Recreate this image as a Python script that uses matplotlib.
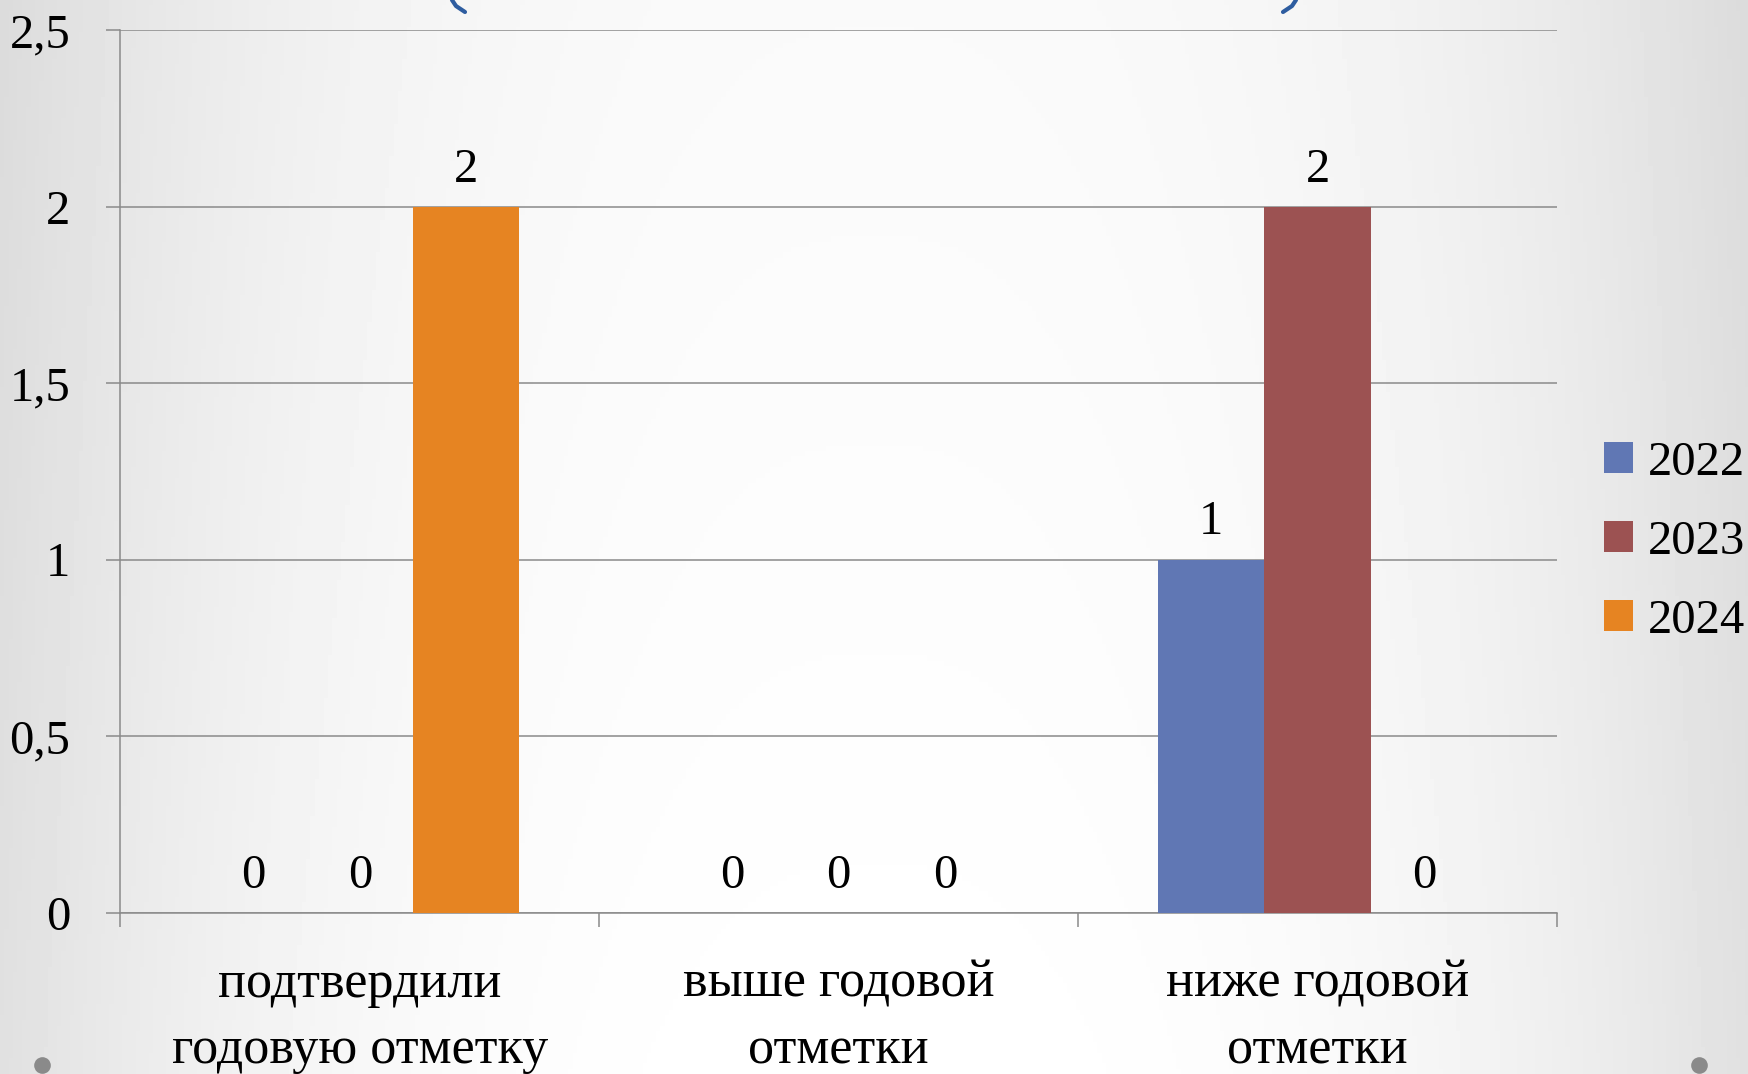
import matplotlib
matplotlib.use('Agg')
import matplotlib.pyplot as plt
import numpy as np
from matplotlib.ticker import FuncFormatter, FixedLocator
from matplotlib.lines import Line2D

categories = ['подтвердили\nгодовую отметку', 'выше годовой\nотметки', 'ниже годовой\nотметки']
years = ['2022', '2023', '2024']
v2022 = [0, 0, 1]
v2023 = [0, 0, 2]
v2024 = [2, 0, 0]
series = [v2022, v2023, v2024]
colors = ['#6077B4', '#9C5252', '#E68422']

plt.rcParams['font.family'] = ['Liberation Serif', 'DejaVu Serif']
FS = 35
W, H = 1749, 1074
fig = plt.figure(figsize=(W / 100, H / 100), dpi=100)

# slide background: grey at the edges, white in the middle
bg = fig.add_axes([0, 0, 1, 1], zorder=-10)
xs = np.linspace(0, 1, 400)
ys = np.linspace(0, 1, 200)
X, Y = np.meshgrid(xs, ys)
shade = 1 - 0.12 * np.clip(np.abs(X - 0.5) / 0.5, 0, 1) ** 2.6 - 0.02 * Y
bg.imshow(shade, cmap='gray', vmin=0, vmax=1, extent=[0, 1, 0, 1], aspect='auto', origin='lower')
bg.axis('off')

ax = fig.add_axes([120.5 / W, 1 - 912.5 / H, (1557 - 120.5) / W, (912.5 - 30) / H])
ax.patch.set_alpha(0)

x = np.arange(len(categories))
w = 0.222
for i, (vals, yr, c) in enumerate(zip(series, years, colors)):
    bars = ax.bar(x + (i - 1) * w, vals, width=w, color=c, label=yr, zorder=3)
    for b, v in zip(bars, vals):
        ax.annotate(f'{v}', (b.get_x() + b.get_width() / 2, v), xytext=(0, 18),
                    textcoords='offset points', ha='center', va='baseline', fontsize=FS)

ax.set_xlim(-0.5, 2.5)
ax.set_ylim(0, 2.5)
ax.set_yticks([0, 0.5, 1, 1.5, 2, 2.5])
ax.yaxis.set_major_formatter(FuncFormatter(lambda v, p: f'{v:g}'.replace('.', ',')))
ax.grid(axis='y', color='#8a8a8a', linewidth=1.1, zorder=0)
ax.tick_params(axis='y', length=10, width=1.1, color='#8a8a8a', pad=26, labelsize=FS)

ax.xaxis.set_major_locator(FixedLocator([-0.5, 0.5, 1.5, 2.5]))
ax.xaxis.set_major_formatter(FuncFormatter(lambda v, p: ''))
ax.xaxis.set_minor_locator(FixedLocator(x))
ax.set_xticklabels(categories, minor=True, fontsize=37.5, linespacing=1.5)
ax.tick_params(axis='x', which='major', length=10, width=1.1, color='#8a8a8a')
ax.tick_params(axis='x', which='minor', length=0, pad=34)

for s in ['top', 'right']:
    ax.spines[s].set_visible(False)
for s in ['left', 'bottom']:
    ax.spines[s].set_color('#8a8a8a')
    ax.spines[s].set_linewidth(1.1)

fig.legend(loc='center left', bbox_to_anchor=(1604 / W, 1 - 542 / H), frameon=False,
           fontsize=FS, handlelength=0.6, handleheight=0.6, handletextpad=0.3,
           labelspacing=0.72, borderpad=0, borderaxespad=0)

# decorative slide elements
fig.add_artist(Line2D([452 / W, 456 / W, 465 / W], [1, 1 - 6 / H, 1 - 12 / H],
                      color='#2E5DA0', linewidth=3, solid_capstyle='round'))
fig.add_artist(Line2D([1296 / W, 1292 / W, 1283 / W], [1, 1 - 6 / H, 1 - 12 / H],
                      color='#2E5DA0', linewidth=3, solid_capstyle='round'))
fig.add_artist(Line2D([42 / W, 1699 / W], [1 - 1065 / H] * 2, linestyle='none',
                      marker='o', markersize=12, color='#8a8a8a', markeredgewidth=0))

fig.savefig('out.png', dpi=100)
